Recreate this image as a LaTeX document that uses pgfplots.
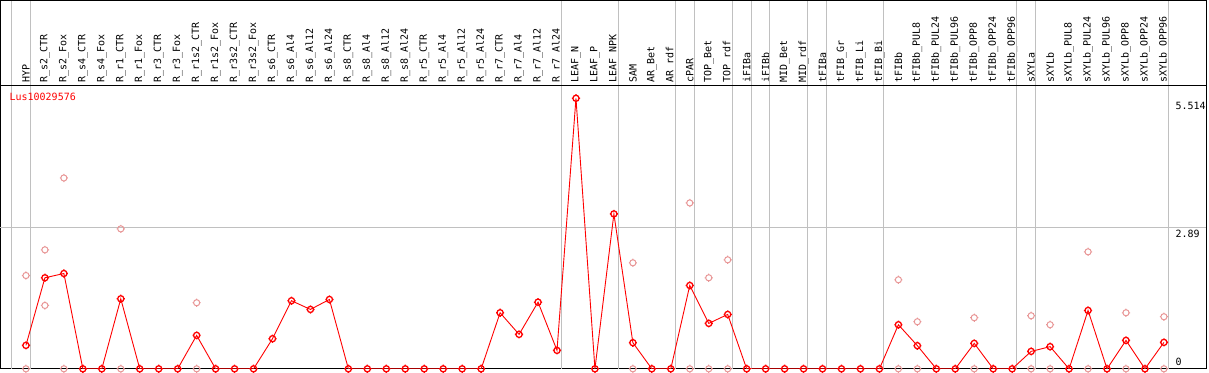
\documentclass[border=0pt]{standalone}
\usepackage{pgfplots}
\pgfplotsset{compat=1.18}
\usepackage{fontspec}
\setmonofont{DejaVu Sans Mono}
\definecolor{gridgray}{RGB}{192,192,192}
\definecolor{repink}{RGB}{232,150,150}
\pgfdeclareplotmark{ring}{%
  \pgfpathcircle{\pgfpointorigin}{3.1pt}%
  \pgfpathmoveto{\pgfpoint{0pt}{3.1pt}}\pgfpathlineto{\pgfpoint{0pt}{4.1pt}}%
  \pgfpathmoveto{\pgfpoint{0pt}{-3.1pt}}\pgfpathlineto{\pgfpoint{0pt}{-4.1pt}}%
  \pgfpathmoveto{\pgfpoint{3.1pt}{0pt}}\pgfpathlineto{\pgfpoint{4.1pt}{0pt}}%
  \pgfpathmoveto{\pgfpoint{-3.1pt}{0pt}}\pgfpathlineto{\pgfpoint{-4.1pt}{0pt}}%
  \pgfusepathqstroke}
\pgfplotstableread{
x y
1 0.478
2 1.856
3 1.943
4 0
5 0
6 1.428
7 0
8 0
9 0
10 0.682
11 0
12 0
13 0
14 0.614
15 1.388
16 1.211
17 1.414
18 0
19 0
20 0
21 0
22 0
23 0
24 0
25 0
26 1.143
27 0.702
28 1.359
29 0.376
30 5.514
31 0
32 3.158
33 0.533
34 0
35 0
36 1.699
37 0.926
38 1.109
39 0
40 0
41 0
42 0
43 0
44 0
45 0
46 0
47 0.899
48 0.472
49 0
50 0
51 0.519
52 0
53 0
54 0.356
55 0.452
56 0
57 1.190
58 0
59 0.580
60 0
61 0.539
}\meanT
\pgfplotstableread{
x y
1 1.902
1 0
2 2.425
2 1.292
3 3.890
3 0
6 2.853
6 0
10 1.347
10 0
33 2.161
33 0
36 3.381
36 0
37 1.856
37 0
38 2.222
38 0
47 1.815
47 0
48 0.960
48 0
51 1.042
51 0
54 1.082
54 0
55 0.899
55 0
57 2.385
57 0
59 1.143
59 0
61 1.062
61 0
}\repT
\begin{document}
\begin{tikzpicture}
\begin{axis}[
  width=1208pt, height=283.5pt, scale only axis,
  xmin=-0.3421, xmax=63.237, ymin=0, ymax=5.768,
  clip mode=individual,
  axis line style={black, line width=1pt},
  major tick length=0pt,
  xtick={1,...,61},
  xticklabels={HYP,R\_s2\_CTR,R\_s2\_Fox,R\_s4\_CTR,R\_s4\_Fox,R\_r1\_CTR,R\_r1\_Fox,R\_r3\_CTR,R\_r3\_Fox,R\_r1s2\_CTR,R\_r1s2\_Fox,R\_r3s2\_CTR,R\_r3s2\_Fox,R\_s6\_CTR,R\_s6\_Al4,R\_s6\_Al12,R\_s6\_Al24,R\_s8\_CTR,R\_s8\_Al4,R\_s8\_Al12,R\_s8\_Al24,R\_r5\_CTR,R\_r5\_Al4,R\_r5\_Al12,R\_r5\_Al24,R\_r7\_CTR,R\_r7\_Al4,R\_r7\_Al12,R\_r7\_Al24,LEAF\_N,LEAF\_P,LEAF\_NPK,SAM,AR\_Bet,AR\_rdf,cPAR,TOP\_Bet,TOP\_rdf,iFIBa,iFIBb,MID\_Bet,MID\_rdf,tFIBa,tFIB\_Gr,tFIB\_Li,tFIB\_Bi,tFIBb,tFIBb\_PUL8,tFIBb\_PUL24,tFIBb\_PUL96,tFIBb\_OPP8,tFIBb\_OPP24,tFIBb\_OPP96,sXYLa,sXYLb,sXYLb\_PUL8,sXYLb\_PUL24,sXYLb\_PUL96,sXYLb\_OPP8,sXYLb\_OPP24,sXYLb\_OPP96},
  xticklabel pos=right,
  xticklabel style={rotate=90, anchor=west, font=\ttfamily\fontsize{10}{12}\selectfont, text=black},
  ytick={2.89,5.514},
  yticklabels={2.89,5.514},
  yticklabel pos=right,
  yticklabel style={anchor=north west, xshift=-34.3pt, font=\ttfamily\fontsize{10}{12}\selectfont},
  extra y ticks={0},
  extra y tick labels={0},
  extra y tick style={yticklabel style={anchor=south west}},
]
% grid and header decorations
\draw[gridgray, line width=1pt] (axis cs:-0.3421,2.89) -- (axis cs:63.237,2.89);
\pgfplotsinvokeforeach{0.23,1.23,29.23,32.23,35.23,36.23,38.23,39.23,40.23,42.23,43.23,46.23,53.23,54.23,61.23}{
  \draw[gridgray, line width=1pt] (axis cs:#1,0) -- (axis cs:#1,7.5076);
}
\draw[black, line width=1pt] (axis cs:-0.3421,5.768) rectangle (axis cs:63.237,7.5076);
\node[anchor=north west, inner sep=0pt, text=red, font=\ttfamily\fontsize{10}{12}\selectfont] at ([xshift=9pt,yshift=-6.7pt]axis cs:-0.3421,5.768) {Lus10029576};
\addplot[only marks, mark=ring, mark options={draw=repink, line width=1pt}] table[x=x,y=y] {\repT};
\addplot[red, line width=0.9pt, mark=ring, mark options={draw=red, line width=1.3pt}] table[x=x,y=y] {\meanT};
\end{axis}
\end{tikzpicture}
\end{document}
